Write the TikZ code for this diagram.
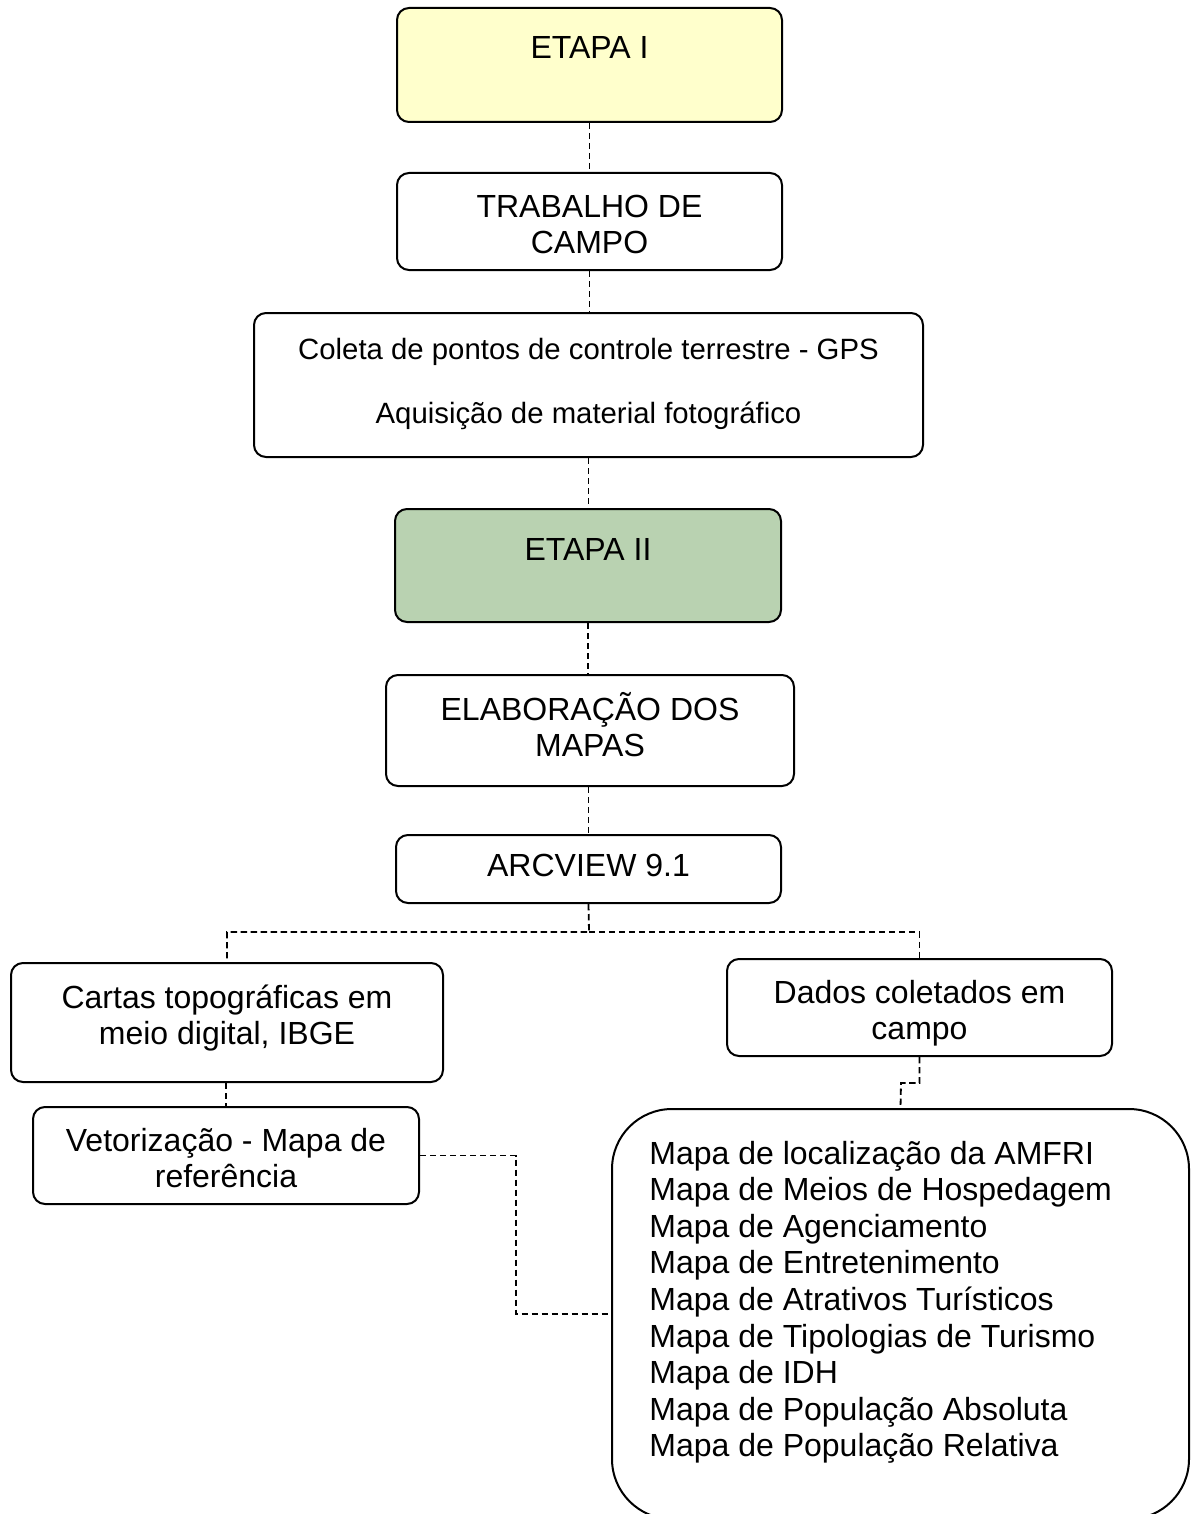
\documentclass[tikz,border=0pt]{standalone}
\usepackage{fontspec}
\setmainfont{Liberation Sans}
\begin{document}
\begin{tikzpicture}[x=0.5pt,y=-0.5pt,
  box/.style={draw=black,line width=1pt,rounded corners=6pt,inner sep=0pt},
  conn/.style={draw=black,line width=0.9pt,dash pattern=on 3.2pt off 1.8pt},
  txt/.style={font=\fontsize{16}{18.4}\selectfont,inner sep=0pt,anchor=base},
  stxt/.style={font=\fontsize{14.67}{16.9}\selectfont,inner sep=0pt,anchor=base},
  ltxt/.style={font=\fontsize{16}{18.4}\selectfont,inner sep=0pt,anchor=base west}]
\clip (0,0) rectangle (1190,1514);
\fill[white] (0,0) rectangle (1190,1514);
% boxes
\node[box,fill={rgb,255:red,255;green,255;blue,204},minimum width=192.5pt,minimum height=57pt] (e1) at (589.5,65) {};
\node[box,minimum width=192.5pt,minimum height=48.5pt] (tc) at (589.5,221.5) {};
\node[box,minimum width=334.5pt,minimum height=72pt] (col) at (588.5,385) {};
\node[box,fill={rgb,255:red,185;green,210;blue,177},minimum width=193pt,minimum height=56.5pt] (e2) at (588,565.5) {};
\node[box,minimum width=204pt,minimum height=55.5pt] (ela) at (590,730.5) {};
\node[box,minimum width=192.5pt,minimum height=34pt] (arc) at (588.5,869) {};
\node[box,minimum width=216pt,minimum height=59.5pt] (car) at (227,1022.5) {};
\node[box,minimum width=192.5pt,minimum height=48.5pt] (dad) at (919.5,1007.5) {};
\node[box,minimum width=193pt,minimum height=48.5pt] (vet) at (226,1155.5) {};
\node[box,rounded corners=30pt,minimum width=288.5pt,minimum height=205pt] (big) at (900.5,1314) {};
% texts
\node[txt] (t1) at (589.5,59) {ETAPA I};
\node[txt] (t2) at (589.5,217.5) {TRABALHO DE};
\node[txt] (t3) at (589.5,253.5) {CAMPO};
\node[stxt] (t4) at (588.5,359.5) {Coleta de pontos de controle terrestre - GPS};
\node[stxt] (t5) at (588.5,423.5) {Aquisição de material fotográfico};
\node[txt] (t6) at (588,560) {ETAPA II};
\node[txt] (t7) at (590,720) {ELABORAÇÃO DOS};
\node[txt] (t8) at (590,756) {MAPAS};
\node[txt] (t9) at (588.5,876) {ARCVIEW 9.1};
\node[txt] (t10) at (227,1008) {Cartas topográficas em};
\node[txt] (t11) at (227,1044) {meio digital, IBGE};
\node[txt] (t12) at (919.5,1003) {Dados coletados em};
\node[txt] (t13) at (919.5,1039) {campo};
\node[txt] (t14) at (226,1151) {Vetorização - Mapa de};
\node[txt] (t15) at (226,1187) {referência};
\node[ltxt] (m1) at (649,1164) {Mapa de localização da AMFRI};
\node[ltxt] (m2) at (649,1200.6) {Mapa de Meios de Hospedagem};
\node[ltxt] (m3) at (649,1237.2) {Mapa de Agenciamento};
\node[ltxt] (m4) at (649,1273.8) {Mapa de Entretenimento};
\node[ltxt] (m5) at (649,1310.4) {Mapa de Atrativos Turísticos};
\node[ltxt] (m6) at (649,1347) {Mapa de Tipologias de Turismo};
\node[ltxt] (m7) at (649,1383.6) {Mapa de IDH};
\node[ltxt] (m8) at (649,1420.2) {Mapa de População Absoluta};
\node[ltxt] (m9) at (649,1456.8) {Mapa de População Relativa};
% connectors
\draw[conn] (e1.south) -- (tc.north);
\draw[conn] (tc.south) -- (tc.south |- col.north);
\draw[conn] (col.south) -- (col.south |- e2.north);
\draw[conn] (e2.south) -- (e2.south |- ela.north);
\draw[conn] (ela.south -| arc.south) -- (arc.north);
\coordinate (br) at (589,932);
\draw[conn] (arc.south) -- (br) -| (car.north);
\draw[conn] (br) -| (dad.north);
\coordinate (dj) at (901,1083);
\draw[conn] (dad.south) |- (dj) -- (big.north);
\coordinate (vj) at (516,1240);
\draw[conn] (vet.east) -| (vj) |- (big.west);
\draw[conn] (car.south -| vet.north) -- (vet.north);
\end{tikzpicture}
\end{document}
